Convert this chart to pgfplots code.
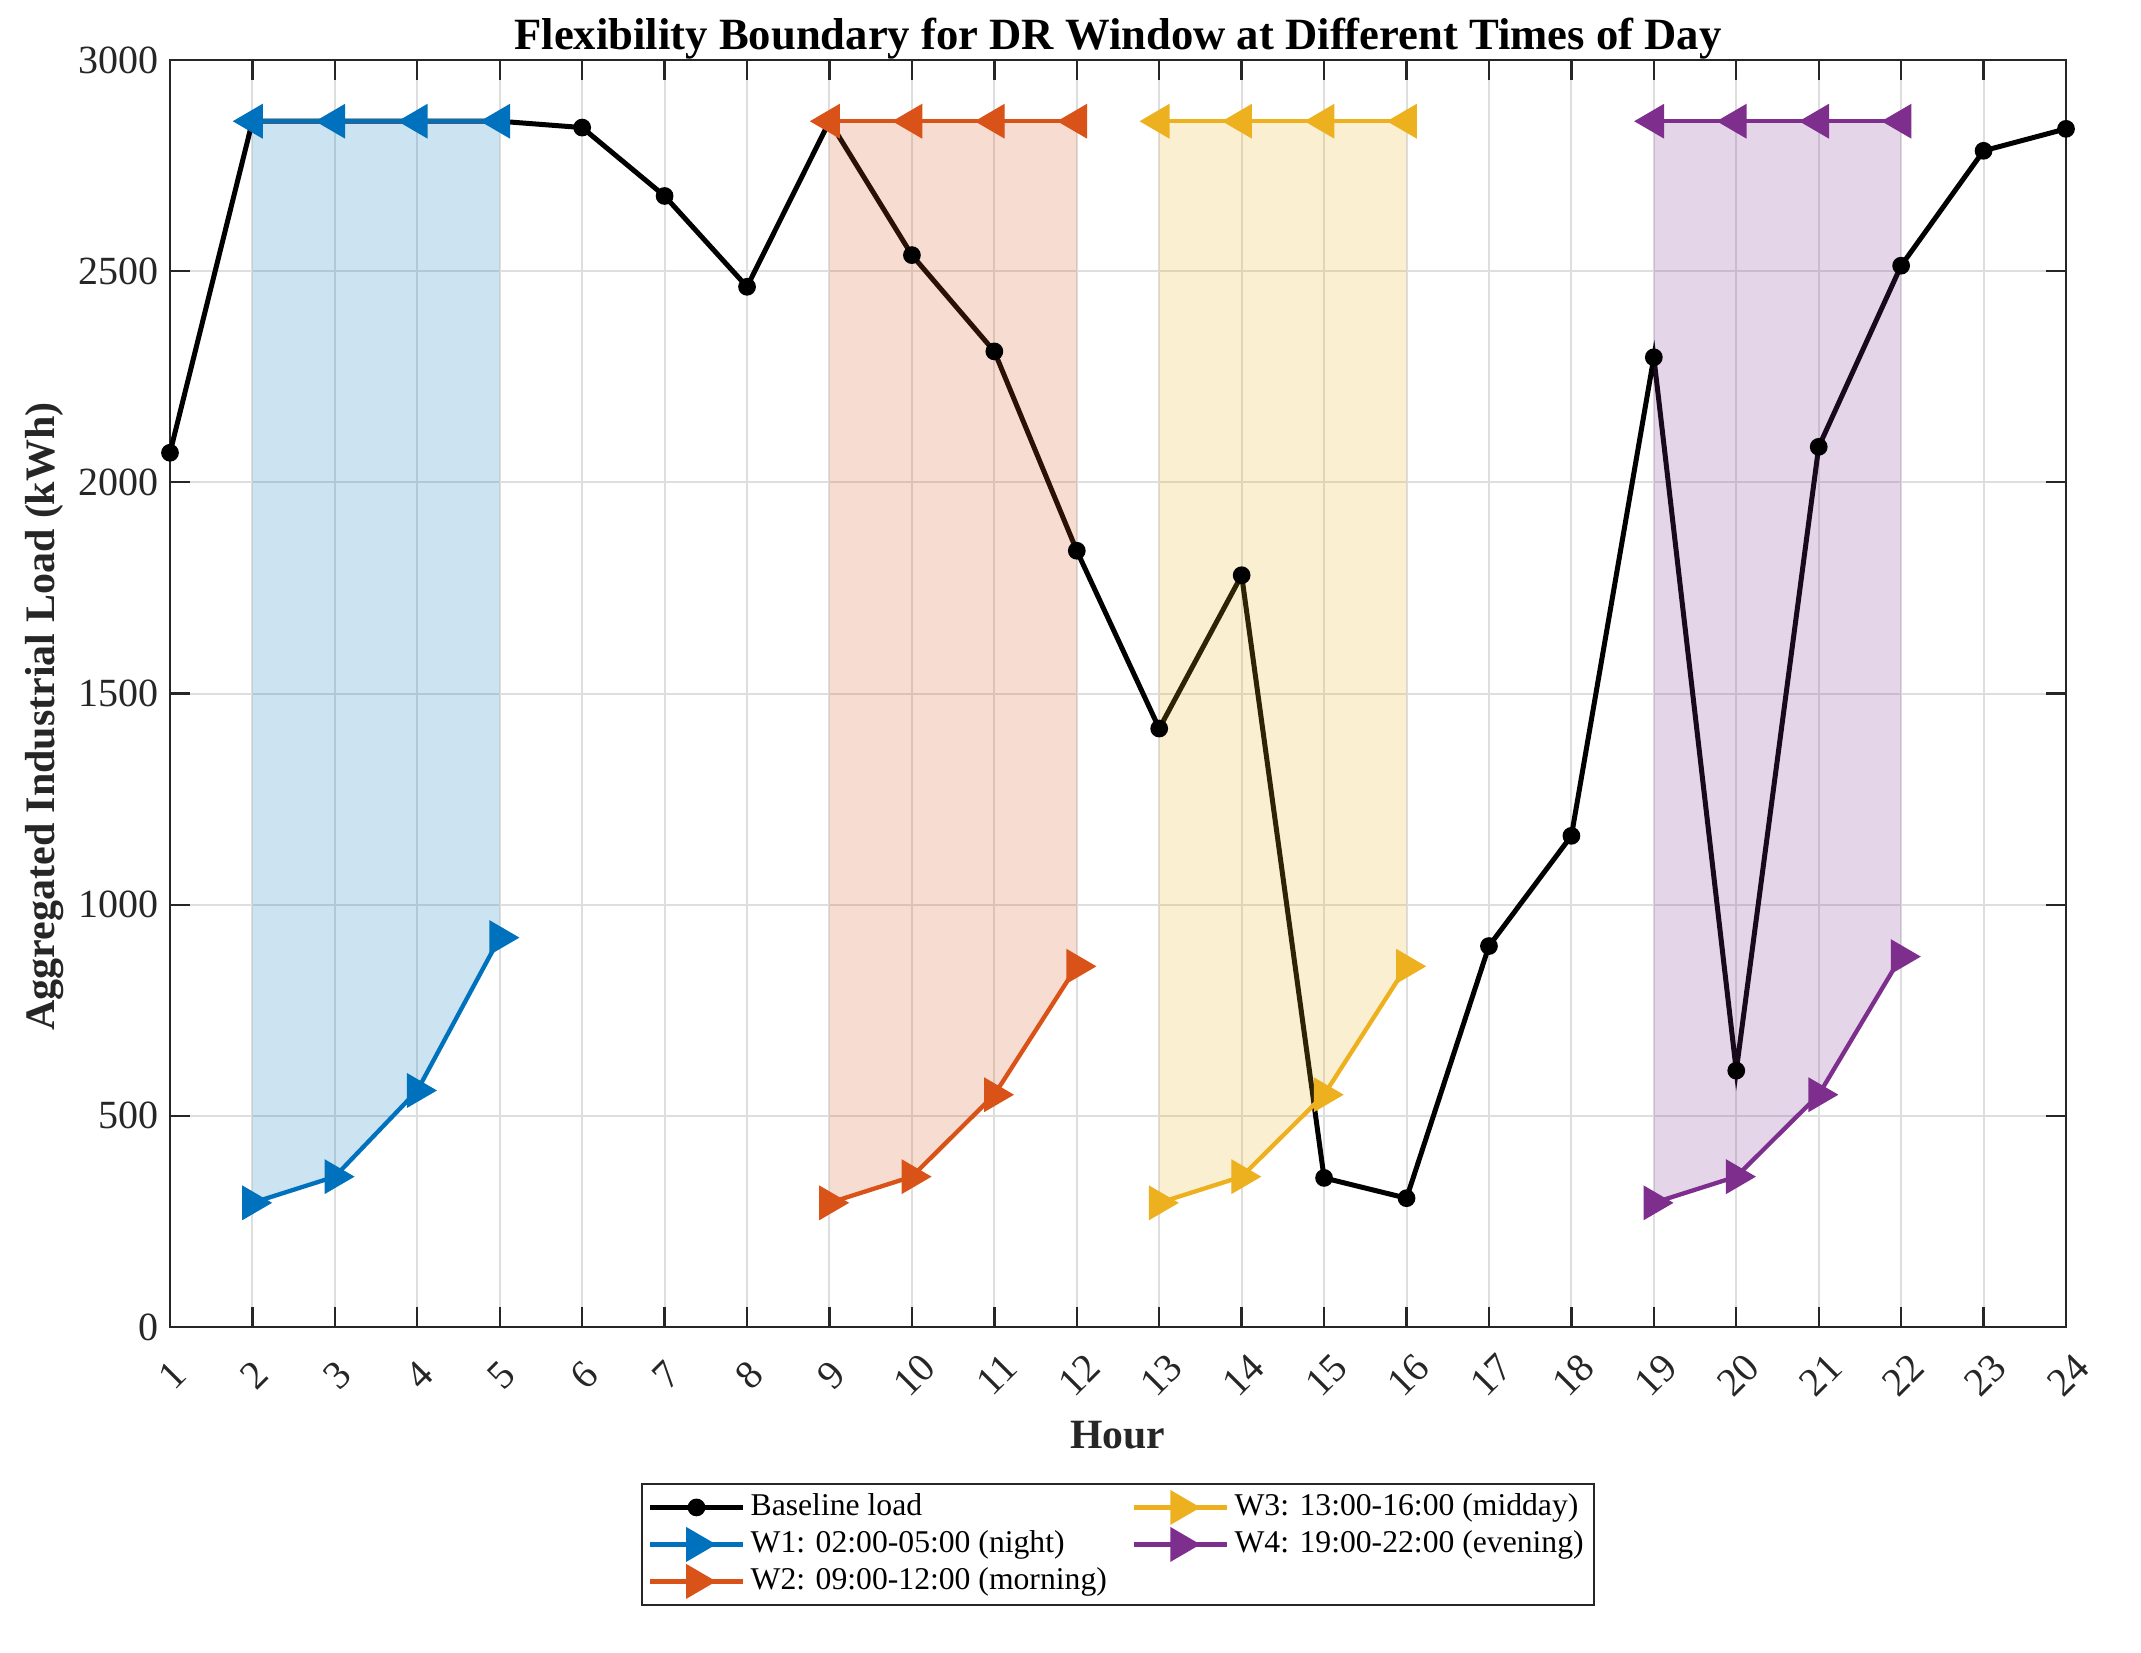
\documentclass[border=0pt]{standalone}
\usepackage{fontspec}
\setmainfont{Liberation Serif}
\usepackage{pgfplots}
\pgfplotsset{compat=1.18}

\definecolor{cA}{HTML}{0072BD}
\definecolor{cB}{HTML}{D95319}
\definecolor{cC}{HTML}{EDB120}
\definecolor{cD}{HTML}{7E2F8E}
\definecolor{axc}{HTML}{262626}

\pgfdeclareplotmark{tril}{%
  \pgfpathmoveto{\pgfqpoint{-5.5pt}{0pt}}%
  \pgfpathlineto{\pgfqpoint{2.9pt}{4.9pt}}%
  \pgfpathlineto{\pgfqpoint{2.9pt}{-4.9pt}}%
  \pgfpathclose\pgfusepathqfillstroke}
\pgfdeclareplotmark{trir}{%
  \pgfpathmoveto{\pgfqpoint{5.5pt}{0pt}}%
  \pgfpathlineto{\pgfqpoint{-2.9pt}{4.9pt}}%
  \pgfpathlineto{\pgfqpoint{-2.9pt}{-4.9pt}}%
  \pgfpathclose\pgfusepathqfillstroke}

\begin{document}
\begin{tikzpicture}
\begin{axis}[
  width=568.8pt, height=380.1pt, scale only axis,
  xmin=1, xmax=24, ymin=0, ymax=3000,
  xtick={1,...,24}, ytick={0,500,1000,1500,2000,2500,3000},
  scaled y ticks=false,
  axis line style={axc, line width=0.7pt},
  every tick/.style={axc, line width=0.7pt},
  major tick length=6pt,
  grid=major, grid style={color=black!13, line width=0.6pt},
  tick label style={font=\fontsize{12}{14}\selectfont, text=axc},
  /pgf/number format/assume math mode=true,
  /pgf/number format/1000 sep={},
  xticklabel style={yshift=-14.4pt, xshift=0.6pt, rotate=45, anchor=center},
  every axis title shift=0pt,
  title={Flexibility Boundary for DR Window at Different Times of Day},
  title style={font=\bfseries\fontsize{13.4}{16}\selectfont, at={(axis description cs:0.5,1.0079)}, anchor=base},
  xlabel={Hour},
  ylabel={Aggregated Industrial Load (kWh)},
  xlabel style={font=\bfseries\fontsize{12.5}{15}\selectfont, text=axc, at={(axis description cs:0.5,-0.0955)}, anchor=base},
  ylabel style={font=\bfseries\fontsize{12.6}{15}\selectfont, text=axc, at={(axis description cs:-0.0607,0.482)}, anchor=base},
  legend style={at={(axis description cs:0.5,-0.1231)}, anchor=north,
    font=\fontsize{9.5}{11}\selectfont, draw=axc, line width=0.6pt,
    inner xsep=1.5pt, inner ysep=1.5pt, nodes={inner sep=1.5pt},
    /tikz/every even column/.append style={column sep=6pt}},
  legend columns=2,
  legend cell align=left,
  legend image code/.code={\draw[mark repeat=2,mark phase=2] plot coordinates {(0pt,0pt)(14pt,0pt)(28pt,0pt)};},
]

% Baseline load
\addplot[black, line width=1.5pt, mark=*, mark size=1.9pt, mark options={solid, fill=black}]
coordinates {(1,2070)(2,2855)(3,2855)(4,2855)(5,2855)(6,2840)(7,2678)(8,2463)(9,2855)(10,2538)(11,2310)(12,1838)(13,1417)(14,1780)(15,353)(16,305)(17,902)(18,1163)(19,2296)(20,607)(21,2084)(22,2513)(23,2785)(24,2837)};
\addlegendentry{Baseline load}

% Flexibility bands
\addplot[draw=none, fill=cA, fill opacity=0.2, forget plot] coordinates {(2,2855)(3,2855)(4,2855)(5,2855)(5,922)(4,560)(3,356)(2,294)} -- cycle;
\addplot[draw=none, fill=cB, fill opacity=0.2, forget plot] coordinates {(9,2855)(10,2855)(11,2855)(12,2855)(12,854)(11,550)(10,356)(9,294)} -- cycle;
\addplot[draw=none, fill=cC, fill opacity=0.2, forget plot] coordinates {(13,2855)(14,2855)(15,2855)(16,2855)(16,854)(15,550)(14,356)(13,294)} -- cycle;
\addplot[draw=none, fill=cD, fill opacity=0.2, forget plot] coordinates {(19,2855)(20,2855)(21,2855)(22,2855)(22,877)(21,550)(20,356)(19,294)} -- cycle;

% Upper boundaries
\addplot[cA, line width=1.3pt, mark=tril, mark options={solid, fill=cA, line width=0.4pt}, forget plot] coordinates {(2,2855)(3,2855)(4,2855)(5,2855)};
\addplot[cB, line width=1.3pt, mark=tril, mark options={solid, fill=cB, line width=0.4pt}, forget plot] coordinates {(9,2855)(10,2855)(11,2855)(12,2855)};
\addplot[cC, line width=1.3pt, mark=tril, mark options={solid, fill=cC, line width=0.4pt}, forget plot] coordinates {(13,2855)(14,2855)(15,2855)(16,2855)};
\addplot[cD, line width=1.3pt, mark=tril, mark options={solid, fill=cD, line width=0.4pt}, forget plot] coordinates {(19,2855)(20,2855)(21,2855)(22,2855)};

% Lower boundaries (legend order arranged for two columns)
\addplot[cC, line width=1.3pt, mark=trir, mark options={solid, fill=cC, line width=0.4pt}] coordinates {(13,294)(14,356)(15,550)(16,854)};
\addlegendentry{W3: 13:00-16:00 (midday)}
\addplot[cA, line width=1.3pt, mark=trir, mark options={solid, fill=cA, line width=0.4pt}] coordinates {(2,294)(3,356)(4,560)(5,922)};
\addlegendentry{W1: 02:00-05:00 (night)}
\addplot[cD, line width=1.3pt, mark=trir, mark options={solid, fill=cD, line width=0.4pt}] coordinates {(19,294)(20,356)(21,550)(22,877)};
\addlegendentry{W4: 19:00-22:00 (evening)}
\addplot[cB, line width=1.3pt, mark=trir, mark options={solid, fill=cB, line width=0.4pt}] coordinates {(9,294)(10,356)(11,550)(12,854)};
\addlegendentry{W2: 09:00-12:00 (morning)}

\end{axis}
\pgfresetboundingbox
\path[use as bounding box] (-51pt,-97.5pt) rectangle (591.3pt,398.1pt);
\end{tikzpicture}
\end{document}
